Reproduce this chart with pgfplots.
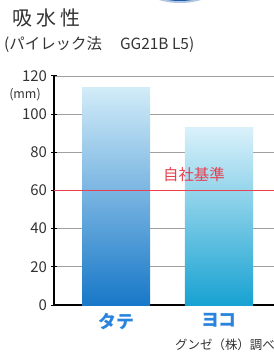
\documentclass[border=0pt]{standalone}
\usepackage{fontspec}
\setmainfont{Noto Sans CJK JP}
\usepackage{pgfplots}
\pgfplotsset{compat=1.18}
\definecolor{txt}{HTML}{333333}
\definecolor{lab}{HTML}{2A84DE}
\definecolor{redl}{HTML}{E8404F}
\definecolor{gridc}{HTML}{A0A0A0}
\definecolor{baratop}{HTML}{D2ECF8}
\definecolor{barabot}{HTML}{1878C8}
\definecolor{barbtop}{HTML}{DAF1FA}
\definecolor{barbbot}{HTML}{18A2D2}
\definecolor{arc}{HTML}{1E5AA8}
\begin{document}
\begin{tikzpicture}[x=1bp,y=1bp]
\useasboundingbox (0,0) rectangle (274,356);
\clip (0,0) rectangle (274,356);
\fill[arc!35] (180,428) circle (75);
\fill[arc] (180,428) circle (73);
\node[anchor=west, text=txt, inner sep=0pt, font=\fontsize{20}{22}\selectfont] at (12,338) {吸\hspace{4bp}水\hspace{4bp}性};
\node[anchor=west, text=txt, inner sep=0pt, font=\fontsize{15.5}{17}\selectfont] at (4,311) {(パイレック法\hspace{18bp}GG21B L5)};
\node[text=txt, inner sep=0pt, font=\fontsize{12.5}{14}\selectfont] at (25,261) {(mm)};
\node[anchor=west, text=txt, inner sep=0pt, font=\fontsize{12.5}{14}\selectfont] at (175,11) {グンゼ（株）調べ};
\begin{axis}[
  at={(54bp,51bp)}, anchor=south west,
  scale only axis, width=220bp, height=229bp,
  xmin=-0.602, xmax=1.534, ymin=0, ymax=120,
  axis lines=left,
  axis line style={-, line width=1.8bp, black},
  ytick={0,20,40,60,80,100,120},
  xtick={0,1}, xticklabels={タテ,ヨコ},
  xtick style={draw=none},
  ytick style={black, line width=1bp},
  major tick length=5bp,
  ymajorgrids, grid style={gridc, line width=0.8bp},
  /pgf/number format/assume math mode=true,
  yticklabel style={text=txt, font=\fontsize{15}{16}\selectfont, xshift=-1bp},
  xticklabel style={text=lab, font=\fontsize{18}{20}\selectfont\bfseries, yshift=-2bp},
  clip=false,
]
\addplot[ybar, bar width=68bp, bar shift=0pt, draw=none, top color=baratop, bottom color=barabot] coordinates {(0,114)};
\addplot[ybar, bar width=68bp, bar shift=0pt, draw=none, top color=barbtop, bottom color=barbbot] coordinates {(1,93)};
\addplot[redl, line width=1.3bp] coordinates {(-0.602,60) (1.6,60)};
\node[text=redl, font=\fontsize{15.5}{17}\selectfont] at (axis cs:0.757,68.3) {自社基準};
\end{axis}
\end{tikzpicture}
\end{document}
